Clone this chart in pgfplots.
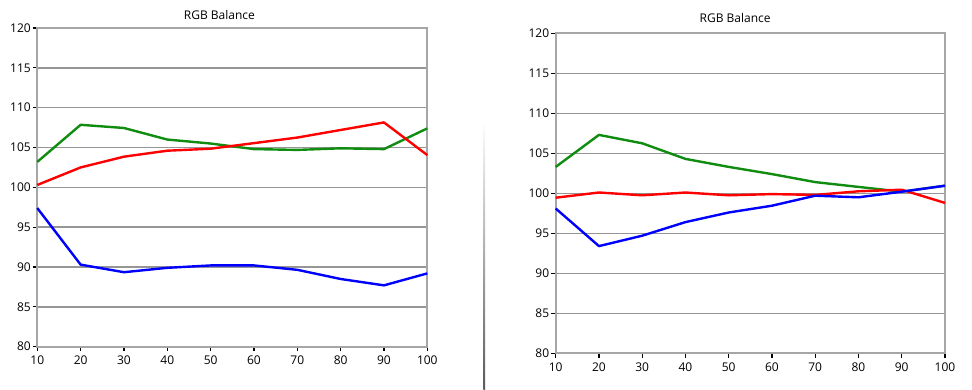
\documentclass[border=0pt]{standalone}
\usepackage{pgfplots}
\pgfplotsset{compat=1.18}
\usepackage{fontspec}
\setmainfont{Open Sans}
\definecolor{gridgray}{RGB}{150,150,150}
\definecolor{lred}{RGB}{255,0,0}
\definecolor{lgreen}{RGB}{16,140,16}
\definecolor{lblue}{RGB}{0,0,255}
\pgfplotsset{
  rgbaxis/.style={
    scale only axis,
    anchor=south west,
    xmin=10, xmax=100, ymin=80, ymax=120,
    xtick={10,20,...,100},
    ytick={80,85,...,120},
    ymajorgrids,
    major grid style={gridgray, line width=1.6pt},
    axis line style={gridgray!85, line width=1.8pt},
    tick style={black, line width=1.1pt},
    major tick length=4.5pt,
    tick align=outside,
    xtick pos=bottom, ytick pos=left,
    /pgf/number format/assume math mode=true,
    tick label style={font=\fontsize{12}{13}\selectfont},
    xticklabel style={yshift=-1pt},
    yticklabel style={xshift=1.5pt},
    title style={font=\fontsize{12}{13}\selectfont, anchor=base},
    every axis plot/.append style={line width=2.4pt, line join=round},
    clip=false,
  }
}
\pgfplotstableread{
x   r      g      b
10  100.3  103.2  97.4
20  102.5  107.85 90.3
30  103.85 107.45 89.35
40  104.6  106.0  89.9
50  104.85 105.5  90.2
60  105.55 104.8  90.2
70  106.25 104.7  89.65
80  107.2  104.9  88.5
90  108.15 104.8  87.7
100 104.05 107.4  89.2
}\lefttab
\pgfplotstableread{
x   r      g      b
10  99.45  103.3  98.1
20  100.1  107.3  93.4
30  99.75  106.25 94.7
40  100.1  104.3  96.4
50  99.75  103.3  97.6
60  99.9   102.4  98.45
70  99.8   101.4  99.7
80  100.25 100.8  99.5
90  100.45 100.2  100.2
100 98.8   100.95 100.95
}\righttab
\begin{document}
\begin{tikzpicture}[x=1pt,y=1pt]
\path[use as bounding box] (0,0) rectangle (972,389);
\shade[top color=white, bottom color=black!65] (483.4,0) rectangle (485,269);
\begin{axis}[rgbaxis, at={(37.3pt,42.3pt)}, width=390pt, height=318.7pt,
  title={RGB Balance}, title style={at={(0.467,1)}, yshift=3pt}]
\addplot[lgreen] table[x=x,y=g] {\lefttab};
\addplot[lred] table[x=x,y=r] {\lefttab};
\addplot[lblue] table[x=x,y=b] {\lefttab};
\end{axis}
\begin{axis}[rgbaxis, at={(555.7pt,35.7pt)}, width=389.3pt, height=320pt,
  title={RGB Balance}, title style={at={(0.461,1)}, yshift=5pt}]
\addplot[lgreen] table[x=x,y=g] {\righttab};
\addplot[lred] table[x=x,y=r] {\righttab};
\addplot[lblue] table[x=x,y=b] {\righttab};
\end{axis}
\end{tikzpicture}
\end{document}
